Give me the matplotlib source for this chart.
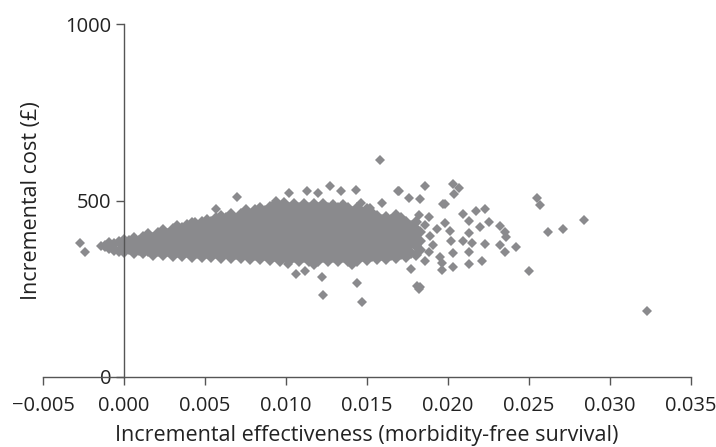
import matplotlib
matplotlib.use("Agg")
import matplotlib.pyplot as plt
from matplotlib.transforms import blended_transform_factory

plt.rcParams['font.family'] = ['Open Sans', 'DejaVu Sans']

# ---- Data ----
# Dense cloud: effectiveness column positions and the cost values in each column
core_effect = [
    -0.0012, -0.0009, -0.0006, -0.0003, 0.0000, 0.0003, 0.0006, 0.0009, 0.0012, 0.0015,
    0.0018, 0.0021, 0.0024, 0.0027, 0.0030, 0.0033, 0.0036, 0.0039, 0.0042, 0.0045,
    0.0048, 0.0051, 0.0054, 0.0057, 0.0060, 0.0063, 0.0066, 0.0069, 0.0072, 0.0075,
    0.0078, 0.0081, 0.0084, 0.0087, 0.0090, 0.0093, 0.0096, 0.0099, 0.0102, 0.0105,
    0.0108, 0.0111, 0.0114, 0.0117, 0.0120, 0.0123, 0.0126, 0.0129, 0.0132, 0.0135,
    0.0138, 0.0141, 0.0144, 0.0147, 0.0150, 0.0153, 0.0156, 0.0159, 0.0162, 0.0165,
    0.0168, 0.0171, 0.0174, 0.0177, 0.0180, 0.0183,
]
core_cost = [
    [372], [365, 380], [360, 378], [358, 383], [355, 372, 388],
    [362, 385], [352, 372, 394], [360, 384], [350, 372, 397], [358, 383, 405],
    [347, 370, 395], [358, 382, 408], [345, 368, 393, 416], [356, 380, 405], [343, 367, 392, 418],
    [355, 380, 405, 428], [342, 367, 392, 417], [354, 379, 404, 430], [341, 366, 391, 416, 436], [352, 377, 402, 427],
    [340, 365, 390, 415, 440], [352, 377, 402, 427, 446], [339, 364, 389, 414, 439], [351, 376, 401, 426, 451],
    [338, 363, 388, 413, 438, 456],
    [350, 375, 400, 425, 450], [337, 362, 387, 412, 437, 462], [349, 374, 399, 424, 449],
    [336, 361, 386, 411, 436, 461], [348, 373, 398, 423, 448, 470],
    [335, 360, 385, 410, 435, 460], [347, 372, 397, 422, 447, 472], [333, 358, 383, 408, 433, 458, 480],
    [345, 370, 395, 420, 445, 470], [331, 356, 381, 406, 431, 456, 481],
    [343, 368, 393, 418, 443, 468, 490], [330, 355, 380, 405, 430, 455, 480],
    [342, 367, 392, 417, 442, 467, 492], [328, 353, 378, 403, 428, 453, 478],
    [340, 365, 390, 415, 440, 465, 490],
    [328, 353, 378, 403, 428, 453, 478], [340, 365, 390, 415, 440, 465, 490],
    [328, 353, 378, 403, 428, 453, 478], [340, 365, 390, 415, 440, 465, 490],
    [328, 353, 378, 403, 428, 453, 478],
    [340, 365, 390, 415, 440, 465, 490], [328, 353, 378, 403, 428, 453, 478],
    [340, 365, 390, 415, 440, 465, 488], [328, 353, 378, 403, 428, 453, 478],
    [340, 365, 390, 415, 440, 465, 488],
    [330, 355, 380, 405, 430, 455, 478], [342, 367, 392, 417, 442, 467],
    [330, 355, 380, 405, 430, 455, 480], [342, 367, 392, 417, 442, 467],
    [332, 357, 382, 407, 432, 457, 476],
    [344, 369, 394, 419, 444, 466], [333, 358, 383, 408, 433, 455], [346, 371, 396, 421, 446],
    [335, 360, 385, 410, 435, 452], [347, 372, 397, 422, 446],
    [337, 362, 387, 412, 437, 458], [349, 374, 399, 424, 450], [340, 365, 390, 415, 440],
    [352, 377, 402, 427], [345, 370, 395, 420, 440], [360, 385, 410],
]

# Scattered simulations outside the dense cloud
out_effect = [
    -0.0027, -0.0024, -0.0014,
    0.0036, 0.0044, 0.0057, 0.0070, 0.0075, 0.0094, 0.0097, 0.0102, 0.0113,
    0.0120, 0.0127, 0.0134, 0.0143, 0.0146, 0.0152, 0.0158, 0.0159, 0.0169,
    0.0170, 0.0176, 0.0183, 0.0182, 0.0188, 0.0186, 0.0198, 0.0203, 0.0207,
    0.0204, 0.0197, 0.0209, 0.0217, 0.0223, 0.0213, 0.0220, 0.0225, 0.0232,
    0.0235, 0.0236, 0.0242, 0.0232, 0.0235, 0.0223, 0.0221, 0.0213, 0.0215,
    0.0213, 0.0213, 0.0209, 0.0202, 0.0203, 0.0203, 0.0196, 0.0196, 0.0191,
    0.0198, 0.0201, 0.0193, 0.0186, 0.0189, 0.0188, 0.0195, 0.0186,
    0.0094, 0.0101, 0.0106, 0.0112, 0.0122, 0.0123, 0.0144, 0.0147, 0.0141,
    0.0117, 0.0177, 0.0182, 0.0181, 0.0183, 0.0250, 0.0255, 0.0257, 0.0262,
    0.0271, 0.0284, 0.0323,
]
out_cost = [
    381, 353, 370,
    424, 438, 475, 511, 475, 500, 480, 520, 526,
    520, 540, 528, 531, 494, 480, 616, 494, 528,
    526, 506, 503, 460, 452, 542, 489, 548, 534,
    517, 489, 463, 469, 475, 441, 424, 438, 427,
    410, 398, 367, 373, 353, 376, 328, 407, 381,
    353, 319, 384, 384, 350, 311, 322, 302, 373,
    435, 415, 418, 430, 400, 355, 340, 330,
    339, 319, 291, 300, 283, 232, 266, 212, 316,
    316, 305, 249, 257, 254, 299, 506, 486, 410,
    418, 444, 186,
]

# Flatten the dense cloud columns into points
core_x = []
core_y = []
for xv, col in zip(core_effect, core_cost):
    for yv in col:
        core_x.append(xv)
        core_y.append(yv)

x_ticks = [-0.005, 0.000, 0.005, 0.010, 0.015, 0.020, 0.025, 0.030, 0.035]
x_tick_labels = ['\u22120.005', '0.000', '0.005', '0.010', '0.015', '0.020', '0.025', '0.030', '0.035']
y_ticks = [0, 500, 1000]

point_color = '#8a8a8d'

# ---- Figure ----
fig = plt.figure(figsize=(7.16, 4.47), dpi=100)
fig.subplots_adjust(left=43/716, right=691/716, bottom=1-377/447, top=1-24/447)
ax = fig.add_subplot(111)

ax.plot(core_x, core_y, linestyle='none', marker='D', markersize=6.0,
        markerfacecolor=point_color, markeredgewidth=0, clip_on=False)
ax.plot(out_effect, out_cost, linestyle='none', marker='D', markersize=4.8,
        markerfacecolor=point_color, markeredgewidth=0, clip_on=False)

ax.set_xlim(-0.005, 0.035)
ax.set_ylim(0, 1000)

ax.spines['top'].set_visible(False)
ax.spines['right'].set_visible(False)
ax.spines['left'].set_position(('data', 0))
for s in ('left', 'bottom'):
    ax.spines[s].set_color('#555555')
    ax.spines[s].set_linewidth(1.0)

ax.set_xticks(x_ticks)
ax.set_xticklabels(x_tick_labels)
ax.set_yticks(y_ticks)
ax.tick_params(axis='both', direction='out', length=6, width=1.0, color='#555555',
               labelsize=14.5, labelcolor='#222222')
ax.tick_params(axis='x', pad=8)
ax.tick_params(axis='y', pad=3)

ax.set_xlabel('Incremental effectiveness (morbidity-free survival)', fontsize=15.5,
              color='#222222', labelpad=6)
ax.set_ylabel('Incremental cost (\u00a3)', fontsize=15.5, color='#222222')
ax.yaxis.set_label_coords(42/716, 0.5,
                          transform=blended_transform_factory(fig.transFigure, ax.transAxes))

fig.savefig('out.png', dpi=100)
